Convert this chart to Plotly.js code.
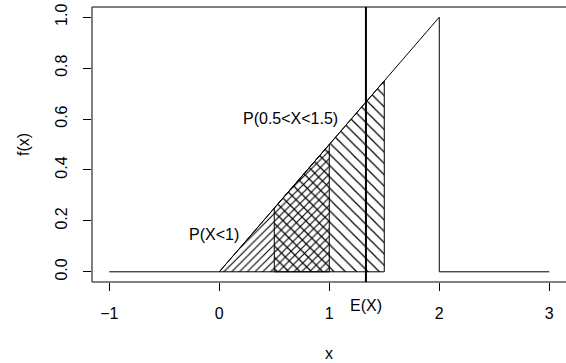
<!DOCTYPE html>
<html>
<head>
<meta charset="utf-8">
<script src="https://cdn.plot.ly/plotly-3.0.1.min.js"></script>
<style>html,body{margin:0;padding:0;background:#fff;}#chart{width:566px;height:363px;}</style>
</head>
<body>
<div id="chart"></div>
<script>
// density f(x) = x/2 on [0,2]
const curveX = [-1, 0, 2, 2, 3];
const curveY = [0, 0, 1, 0, 0];
// P(X<1) region
const polyAX = [0, 1, 1, 0];
const polyAY = [0, 0.5, 0, 0];
// P(0.5<X<1.5) region
const polyBX = [0.5, 0.5, 1.5, 1.5, 0.5];
const polyBY = [0, 0.25, 0.75, 0, 0];
// expected value
const EX = 4 / 3;
const xTicks = [-1, 0, 1, 2, 3];
const yTicks = [0, 0.2, 0.4, 0.6, 0.8, 1.0];
const yTickText = ["0.0", "0.2", "0.4", "0.6", "0.8", "1.0"];
const labels = ["P(X<1)", "P(0.5<X<1.5)", "E(X)"];
const labelX = [-0.05, 0.65];
const labelY = [0.145, 0.604];

const yRange = [-0.04, 1.04];
const FONT = "Liberation Sans, Arial, Helvetica, sans-serif";
const FS = 16;

const traces = [
  {x: polyAX, y: polyAY, mode: 'lines', fill: 'toself', fillcolor: 'rgba(0,0,0,0)',
   fillpattern: {shape: '/', size: 5.5, solidity: 0.2, fgcolor: '#000', bgcolor: 'rgba(0,0,0,0)'},
   line: {color: '#000', width: 1}, hoverinfo: 'skip'},
  {x: polyBX, y: polyBY, mode: 'lines', fill: 'toself', fillcolor: 'rgba(0,0,0,0)',
   fillpattern: {shape: '\\', size: 8, solidity: 0.15, fgcolor: '#000', bgcolor: 'rgba(0,0,0,0)'},
   line: {color: '#000', width: 1}, hoverinfo: 'skip'},
  {x: curveX, y: curveY, mode: 'lines', line: {color: '#000', width: 1}},
  {x: [EX, EX], y: yRange, mode: 'lines', line: {color: '#000', width: 2}}
];

const layout = {
  width: 566, height: 363,
  margin: {l: 92, r: 0, t: 7, b: 81},
  paper_bgcolor: '#fff', plot_bgcolor: '#fff',
  showlegend: false,
  font: {family: FONT, size: FS, color: '#000'},
  xaxis: {
    range: [-1.157, 3.152], tickvals: xTicks, ticks: 'outside', ticklen: 8, tickwidth: 1,
    tickcolor: '#000', showgrid: false, zeroline: false, showline: false,
    ticklabelstandoff: 9,
    title: {text: 'x', standoff: 26, font: {size: FS}}, tickfont: {size: FS}
  },
  yaxis: {
    range: yRange, tickvals: yTicks, ticktext: yTickText, tickangle: -90,
    ticks: 'outside', ticklen: 8, tickwidth: 1, tickcolor: '#000',
    showgrid: false, zeroline: false, showline: false,
    ticklabelstandoff: 10,
    title: {text: 'f(x)', standoff: 18, font: {size: FS}}, tickfont: {size: FS}
  },
  shapes: [
    {type: 'rect', xref: 'paper', yref: 'paper', x0: 0, x1: 1.02, y0: 0, y1: 1,
     line: {color: '#000', width: 1}, fillcolor: 'rgba(0,0,0,0)', layer: 'above'}
  ],
  annotations: [
    {x: labelX[0], y: labelY[0], text: labels[0], showarrow: false, xref: 'x', yref: 'y', font: {size: FS}},
    {x: labelX[1], y: labelY[1], text: labels[1], showarrow: false, xref: 'x', yref: 'y', font: {size: FS}},
    {x: EX, y: -0.122, text: labels[2], showarrow: false, xref: 'x', yref: 'paper', font: {size: FS}}
  ]
};

Plotly.newPlot('chart', traces, layout, {staticPlot: true, displayModeBar: false});
</script>
</body>
</html>
